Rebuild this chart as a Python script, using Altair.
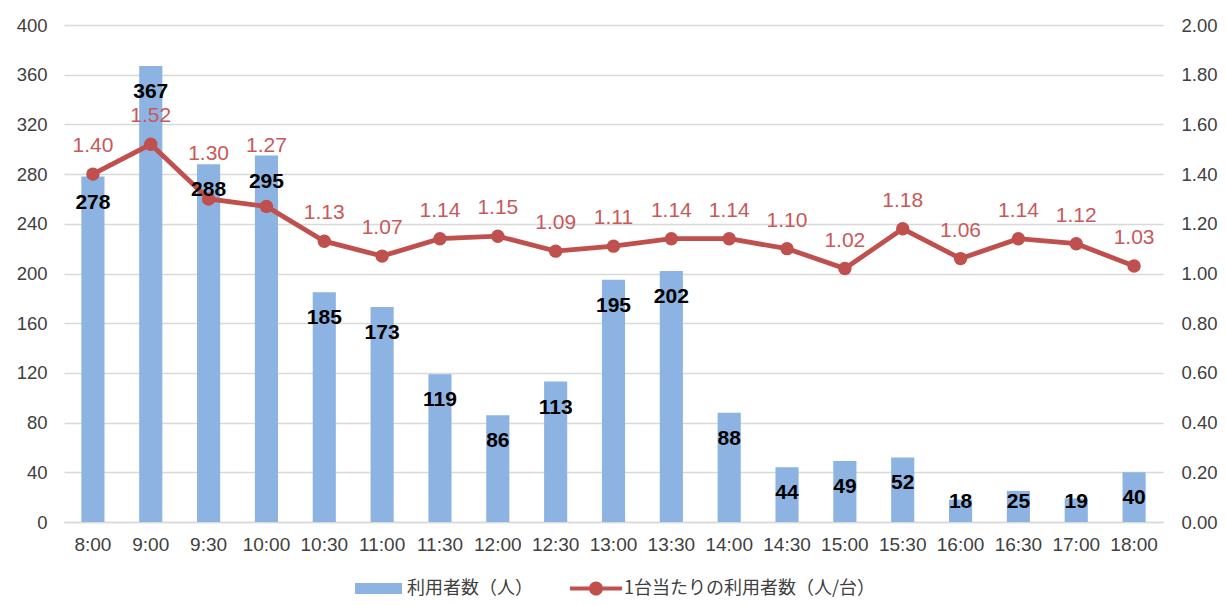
import altair as alt
import pandas as pd

times = ["8:00", "9:00", "9:30", "10:00", "10:30", "11:00", "11:30", "12:00", "12:30",
         "13:00", "13:30", "14:00", "14:30", "15:00", "15:30", "16:00", "16:30", "17:00", "18:00"]
counts = [278, 367, 288, 295, 185, 173, 119, 86, 113, 195, 202, 88, 44, 49, 52, 18, 25, 19, 40]
rates = [1.40, 1.52, 1.30, 1.27, 1.13, 1.07, 1.14, 1.15, 1.09, 1.11, 1.14, 1.14, 1.10, 1.02,
         1.18, 1.06, 1.14, 1.12, 1.03]

n_bar = "利用者数（人）"
n_line = "1台当たりの利用者数（人/台）"

df = pd.DataFrame({"time": times, "count": counts, "rate": rates,
                   "s_bar": n_bar, "s_line": n_line})

BLUE = "#8DB3E2"
RED = "#C0504D"
RED_TXT = "#C9585A"
GRID = "#D9D9D9"
LBL = "#404040"
FONT = "Liberation Sans"

bar_path = "M-1,-0.234H1V0.234H-1Z"
line_path = ("M-1,-0.077H1V0.077H-1Z "
             "M-0.27,0A0.27,0.27 0 1,1 0.27,0A0.27,0.27 0 1,1 -0.27,0Z")

leg_common = dict(orient="none", direction="horizontal", title=None,
                  labelFont="Noto Sans CJK JP", labelFontSize=18, labelColor=LBL,
                  labelLimit=0, symbolStrokeWidth=0, symbolOpacity=1, padding=0)

xenc = alt.X("time:N", sort=times, title=None,
             scale=alt.Scale(paddingInner=0.6, paddingOuter=0.3),
             axis=alt.Axis(labelAngle=0, labelFont=FONT, labelFontSize=19, labelColor=LBL,
                           labelPadding=13, ticks=False, domainColor=GRID, domainWidth=1.3,
                           grid=False))

base = alt.Chart(df)

bars = base.mark_bar(opacity=1).encode(
    x=xenc,
    y=alt.Y("count:Q", title=None, scale=alt.Scale(domain=[0, 400]),
            axis=alt.Axis(values=list(range(0, 401, 40)), labelFont=FONT, labelFontSize=18.5,
                          labelColor=LBL, labelPadding=17, ticks=False, domain=False,
                          gridColor=GRID, gridWidth=1.3)),
    color=alt.Color("s_bar:N", scale=alt.Scale(domain=[n_bar], range=[BLUE]),
                    legend=alt.Legend(symbolType=bar_path, symbolSize=2209, labelOffset=5,
                                      legendX=291, legendY=540, **leg_common)),
)

rate_axis = alt.Axis(orient="right", values=[round(i * 0.2, 1) for i in range(11)],
                     format=".2f", labelFont=FONT, labelFontSize=18.5, labelColor=LBL,
                     labelPadding=18, ticks=False, domain=False, grid=False)
yr = alt.Y("rate:Q", title=None, scale=alt.Scale(domain=[0, 2]), axis=rate_axis)

line = base.mark_line(strokeWidth=4.8, color=RED).encode(x=xenc, y=yr)
points = base.mark_point(filled=True, size=180, opacity=1).encode(
    x=xenc, y=yr,
    color=alt.Color("s_line:N", scale=alt.Scale(domain=[n_line], range=[RED]),
                    legend=alt.Legend(symbolType=line_path, symbolSize=2704, labelOffset=2,
                                      legendX=506, legendY=537.5, **leg_common)))

labels_base = base.transform_calculate(
    bar_lbl="max(datum.count - 21, 16)",
    line_raw="datum.rate * 200 + 22.5",
).transform_calculate(
    line_lbl="abs(datum.line_raw - datum.bar_lbl) < 18 ? datum.bar_lbl + 29 : datum.line_raw"
)
ylab = dict(title=None, scale=alt.Scale(domain=[0, 400]), axis=None)

bar_text = labels_base.mark_text(font=FONT, fontSize=21, fontWeight="bold", color="black",
                                 baseline="middle").encode(
    x=xenc, y=alt.Y("bar_lbl:Q", **ylab), text="count:Q")
line_text = labels_base.mark_text(font=FONT, fontSize=21, color=RED_TXT,
                                  baseline="middle").encode(
    x=xenc, y=alt.Y("line_lbl:Q", **ylab), text=alt.Text("rate:Q", format=".2f"))

chart = alt.layer(
    bars,
    alt.layer(line, points),
    alt.layer(bar_text, line_text),
).resolve_scale(y="independent", color="independent").resolve_legend(
    color="independent"
).properties(
    width=1099, height=497,
    autosize=alt.AutoSizeParams(type="none"),
    padding={"left": 56, "top": 17, "right": 55, "bottom": 75},
).configure_view(stroke=None)

chart.save("out.html", embed_options={"renderer": "svg", "actions": False})
